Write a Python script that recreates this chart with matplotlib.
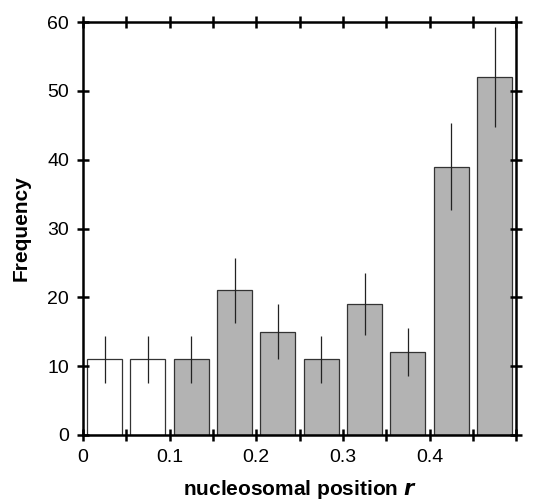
import matplotlib
matplotlib.use('Agg')
import matplotlib.pyplot as plt

plt.rcParams['font.family'] = ['Liberation Sans', 'DejaVu Sans']

# bin centres, counts and error bars
centres = [0.025, 0.075, 0.125, 0.175, 0.225, 0.275, 0.325, 0.375, 0.425, 0.475]
counts = [11, 11, 11, 21, 15, 11, 19, 12, 39, 52]
errors = [3.4, 3.4, 3.4, 4.7, 4.0, 3.4, 4.5, 3.5, 6.3, 7.3]
fills = ['white', 'white', '#b3b3b3', '#b3b3b3', '#b3b3b3', '#b3b3b3',
         '#b3b3b3', '#b3b3b3', '#b3b3b3', '#b3b3b3']

fig = plt.figure(figsize=(5.35, 5.04), dpi=100)
ax = fig.add_axes([0.155, 0.137, 0.81, 0.819])

ax.bar(centres, counts, width=0.0405, color=fills, edgecolor='#333333', linewidth=0.9)
ax.errorbar(centres, counts, yerr=errors, fmt='none', ecolor='#222222', elinewidth=0.9, capsize=0)

ax.set_xlim(0, 0.5)
ax.set_ylim(0, 60)
ax.set_xticks([0, 0.05, 0.1, 0.15, 0.2, 0.25, 0.3, 0.35, 0.4, 0.45, 0.5])
ax.set_xticklabels(['0', '', '0.1', '', '0.2', '', '0.3', '', '0.4', '', ''])
ax.set_yticks([0, 10, 20, 30, 40, 50, 60])
ax.tick_params(direction='inout', length=8, width=1.8, labelsize=14,
               top=True, right=True, pad=6)
for s in ax.spines.values():
    s.set_linewidth(1.8)

ax.set_xlabel('nucleosomal position $\\boldsymbol{r}$', fontsize=15, fontweight='bold', labelpad=9)
ax.set_ylabel('Frequency', fontsize=15, fontweight='bold', labelpad=12)

fig.savefig('out.png', dpi=100)
